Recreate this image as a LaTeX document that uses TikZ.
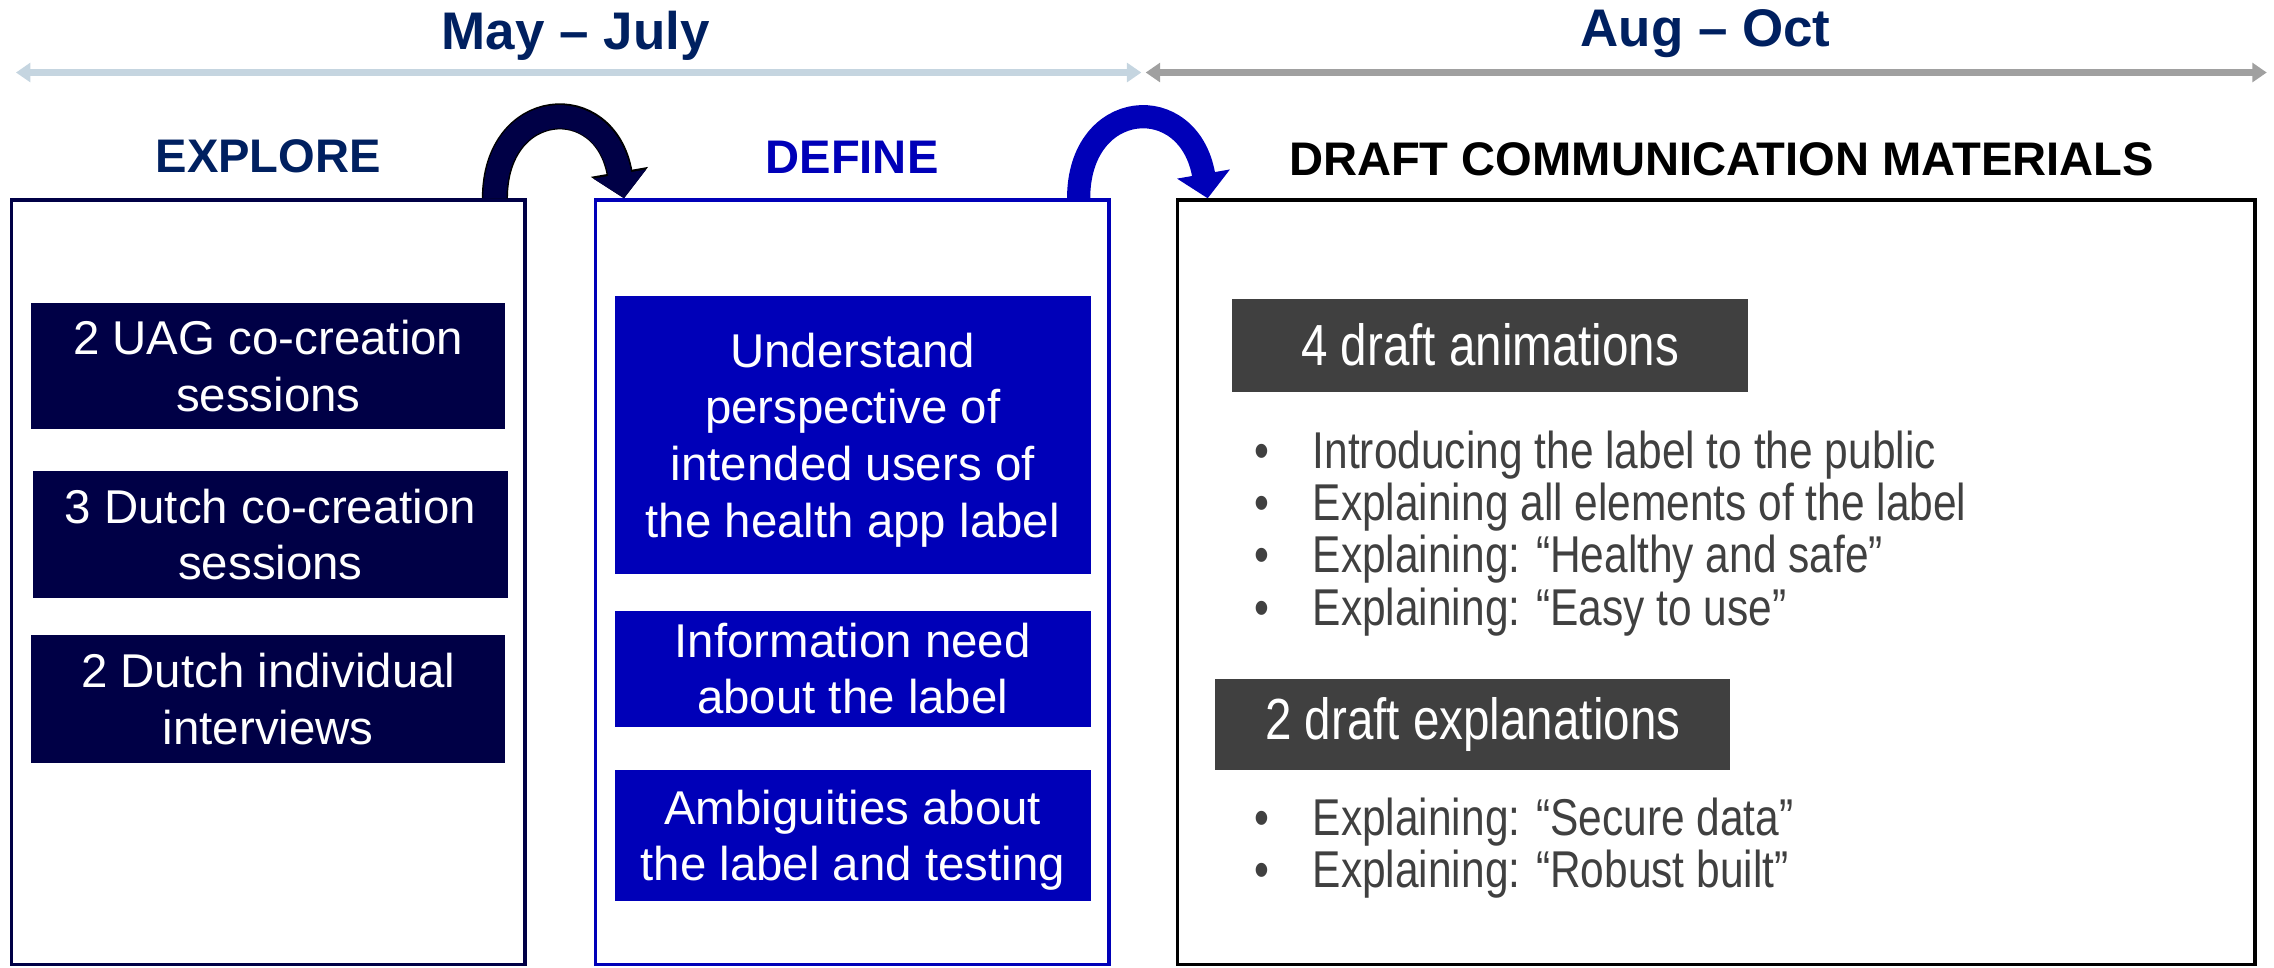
\documentclass[tikz,border=0pt]{standalone}
\usepackage{fontspec}
\setmainfont{Liberation Sans}
\newfontfamily\narrowfont[FakeStretch=0.82]{Liberation Sans}
\usetikzlibrary{arrows.meta,positioning}
\definecolor{darknavy}{RGB}{0,0,70}
\definecolor{royal}{RGB}{0,0,184}
\definecolor{headblue}{RGB}{0,32,96}
\definecolor{charcoal}{RGB}{64,64,64}
\definecolor{paleblue}{RGB}{197,213,224}
\definecolor{midgray}{RGB}{160,160,160}
\newcommand{\itemdot}{\makebox[40pt][l]{\textbullet}}
\newcommand{\nodepth}[1]{\raisebox{0pt}[\height][0pt]{#1}}

\begin{document}
\begin{tikzpicture}[x=1pt, y=-1pt,
phase/.style={rectangle, draw, line width=2.5pt, minimum width=354pt, minimum height=527pt, inner sep=0pt},
activity/.style={rectangle, text=white, align=center, minimum width=327pt, inner sep=0pt, font=\fontsize{32.7}{39}\selectfont},
output/.style={rectangle, fill=charcoal, text=white, minimum width=356pt, minimum height=64pt, inner sep=0pt, font=\narrowfont\fontsize{40}{44}\selectfont},
heading/.style={inner sep=0pt, font=\bfseries\fontsize{32.5}{39}\selectfont},
period/.style={inner sep=0pt, text=headblue, font=\bfseries\fontsize{36.5}{44}\selectfont},
timeline/.style={line width=4.6pt, {Triangle[width=13pt,length=10pt]}-{Triangle[width=13pt,length=10pt]}},
hop/.style={line width=16pt, -{Triangle[width=36pt,length=17pt]}},
bulletitem/.style={anchor=base west, inner sep=0pt, text=charcoal, font=\narrowfont\fontsize{35.7}{36}\selectfont}
]
\useasboundingbox (0,0) rectangle (1568,667);

% time periods
\coordinate (t0) at (11,50);
\coordinate (t1) at (787,50);
\coordinate (t2) at (790,50);
\coordinate (t3) at (1563,50);
\draw[timeline, paleblue] (t0) -- (t1);
\draw[timeline, midgray] (t2) -- (t3);
\node[period] (mayjul) at (397,25) {May – July};
\node[period] (augoct) at (1176,23) {Aug – Oct};

% the three phases
\node[phase, draw=darknavy] (explore) at (185,401.5) {};
\node[phase, draw=royal] (define) at (587.5,401.5) {};
\node[phase, draw=black, minimum width=743pt] (draft) at (1183.5,401.5) {};
\node[heading, text=headblue, above=17pt of explore] (explorehead) {EXPLORE};
\node[heading, text=royal, above=17pt of define] (definehead) {DEFINE};
\node[heading, text=black, above=15pt of draft, xshift=3.5pt] (drafthead) {DRAFT COMMUNICATION MATERIALS};

% explore
\node[activity, fill=darknavy, minimum height=87pt] (uag) at (185,252.5) {2 UAG co-creation\\sessions};
\node[activity, fill=darknavy, minimum height=87pt] (dutchcc) at (186.5,368.5) {3 Dutch co-creation\\sessions};
\node[activity, fill=darknavy, minimum height=88pt] (dutchint) at (185,482) {2 Dutch individual\\interviews};

% define
\node[activity, fill=royal, minimum width=328pt, minimum height=192pt] (perspective) at (588,300) {Understand\\perspective of\\intended users of\\\nodepth{the health app label}};
\node[activity, fill=royal, minimum width=328pt, minimum height=80pt] (infoneed) at (588,461) {Information need\\about the label};
\node[activity, fill=royal, minimum width=328pt, minimum height=90pt] (ambiguity) at (588,576) {Ambiguities about\\\nodepth{the label and testing}};

% draft communication materials
\node[output] (animations) at (1027.5,238) {4 draft animations};
\node[bulletitem] (intro) at (865,323) {\itemdot Introducing the label to the public};
\node[bulletitem] (elements) at (865,359) {\itemdot Explaining all elements of the label};
\node[bulletitem] (healthy) at (865,395) {\itemdot Explaining: “Healthy and safe”};
\node[bulletitem] (easy) at (865,431) {\itemdot Explaining: “Easy to use”};
\node[output, minimum width=355pt, minimum height=63pt] (explanations) at (1015.5,499.5) {2 draft explanations};
\node[bulletitem] (secure) at (865,576) {\itemdot Explaining: “Secure data”};
\node[bulletitem] (robust) at (865,612) {\itemdot Explaining: “Robust built”};

% hops between phases
\draw[hop, darknavy, preaction={draw=black, line width=18pt, -{Triangle[width=39pt,length=18.5pt]}}]
  ([xshift=-22pt]explore.north east) .. controls +(0,-69) and +(-13,-75) .. ([xshift=21pt]define.north west);
\draw[hop, royal]
  ([xshift=-22pt]define.north east) .. controls +(0,-69) and +(-13,-75) .. ([xshift=22pt]draft.north west);
\end{tikzpicture}
\end{document}
